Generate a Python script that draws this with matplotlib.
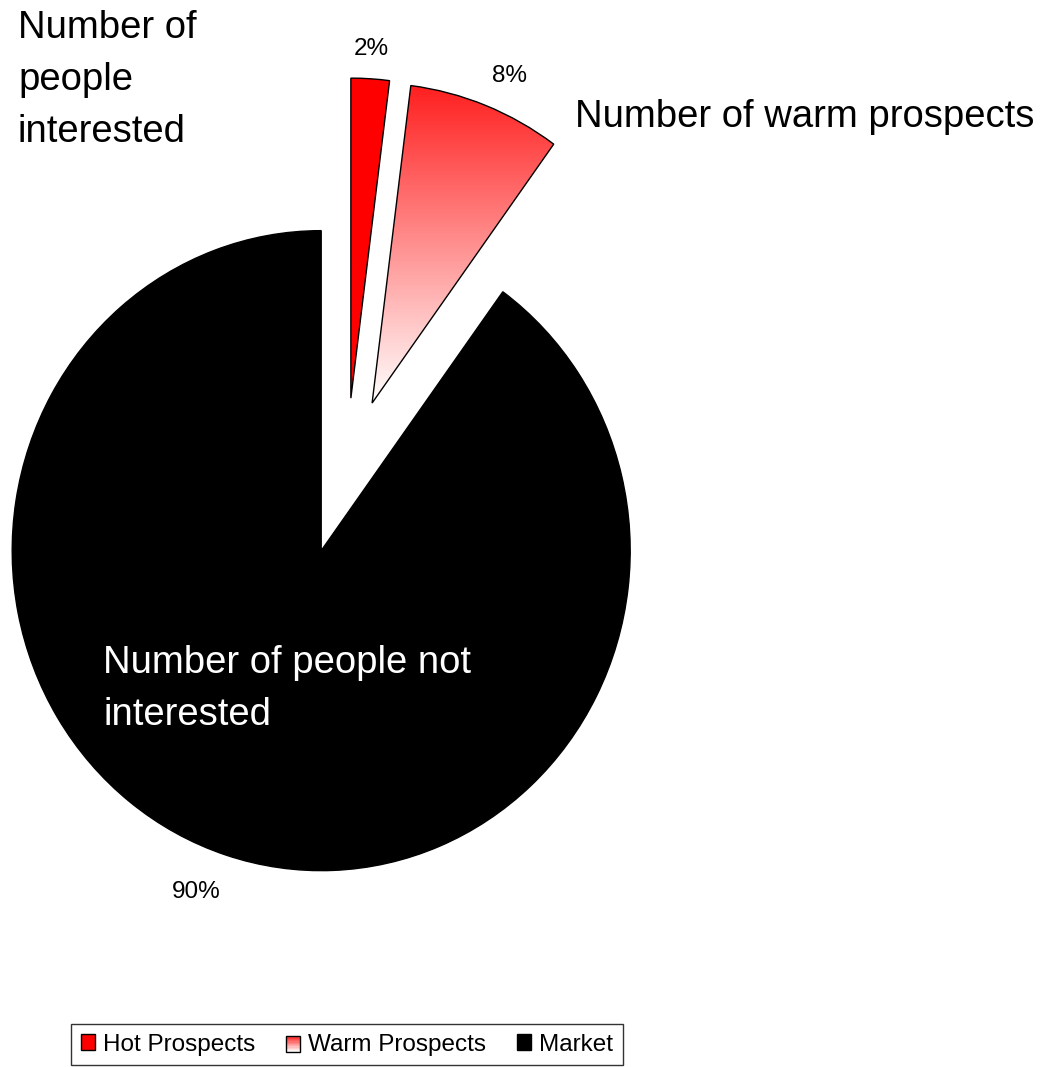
import numpy as np
import matplotlib
matplotlib.use("Agg")
import matplotlib.pyplot as plt
from matplotlib.patches import Rectangle
from matplotlib.colors import LinearSegmentedColormap
from matplotlib.transforms import offset_copy

plt.rcParams['font.family'] = ['Liberation Sans', 'DejaVu Sans']

# data
categories = ['Hot Prospects', 'Warm Prospects', 'Market']
shares = [2, 8, 90]
descriptions = ['Number of\npeople\ninterested', 'Number of warm prospects',
                'Number of people not\ninterested']

W, H = 1042, 1067
cx, cy = 346.5, 470.0      # pie centre in pixels (from top-left)
rx, ry = 309.0, 320.0      # pie radius in pixels

red_white = LinearSegmentedColormap.from_list('rw', ['#ffffff', '#ff1f1f'])


class GradientHandler:
    def legend_artist(self, legend, orig_handle, fontsize, handlebox):
        x0, y0 = handlebox.xdescent, handlebox.ydescent
        w, h = handlebox.width, handlebox.height
        n = 12
        tr = handlebox.get_transform()
        for i in range(n):
            r = Rectangle((x0, y0 + h * i / n), w, h / n + 0.2,
                          facecolor=red_white((i + 0.5) / n), edgecolor='none', transform=tr)
            handlebox.add_artist(r)
        border = Rectangle((x0, y0), w, h, facecolor='none', edgecolor='black', lw=1.0, transform=tr)
        handlebox.add_artist(border)
        return border


fig = plt.figure(figsize=(W / 100, H / 100), dpi=100)
ax = fig.add_axes([0, 0, 1, 1])

wedges, texts, autotexts = ax.pie(
    shares, explode=[0.225, 0.225, 0.265], startangle=90, counterclock=False,
    colors=['#ff0000', 'none', 'black'], autopct='%1.0f%%', pctdistance=1.12,
    wedgeprops=dict(edgecolor='black', linewidth=1.0),
    textprops=dict(fontsize=17.5, color='black'))

# nudge percentage labels (points) to where the original puts them
nudges = [(-1, -6), (7, -4.5), (-13, 0)]
for t, (dx, dy) in zip(autotexts, nudges):
    t.set_transform(offset_copy(t.get_transform(), fig=fig, x=dx, y=dy, units='points'))

# gradient fill for the warm slice
warm = wedges[1]
bb = warm.get_path().get_extents()
grad = np.linspace(0, 1, 256).reshape(-1, 1)
im = ax.imshow(grad, cmap=red_white, origin='lower', aspect='auto',
               extent=[bb.x0, bb.x1, bb.y0, bb.y1], clip_path=warm, zorder=0.5)
warm.set_zorder(2)

ax.set_aspect('auto')
ax.set_xlim(-cx / rx, (W - cx) / rx)
ax.set_ylim(-(H - cy) / ry, cy / ry)
ax.axis('off')

# descriptive labels (baseline = last line for multi-line text)
fig.text(18 / W, 1 - 142 / H, descriptions[0], fontsize=27.5, va='baseline', ha='left', linespacing=1.57)
fig.text(575 / W, 1 - 127 / H, descriptions[1], fontsize=27.5, va='baseline', ha='left')
fig.text(103 / W, 1 - 725 / H, descriptions[2], fontsize=27.5, va='baseline', ha='left',
         color='white', linespacing=1.57)

handles = [Rectangle((0, 0), 1, 1, facecolor='#ff0000', edgecolor='black', lw=1.0),
           Rectangle((0, 0), 1, 1, facecolor='none', edgecolor='black'),
           Rectangle((0, 0), 1, 1, facecolor='black', edgecolor='black', lw=1.0)]
leg = fig.legend(handles, categories, loc='upper center', bbox_to_anchor=(347 / W, 1 - 1024 / H),
                 ncol=3, fontsize=17.5, frameon=True, fancybox=False, edgecolor='black',
                 handlelength=0.6, handleheight=0.6, handletextpad=0.33, columnspacing=1.25,
                 borderpad=0.4, borderaxespad=0, handler_map={handles[1]: GradientHandler()})
leg.get_frame().set_linewidth(1.0)

fig.savefig('out.png', dpi=100, facecolor='white')
